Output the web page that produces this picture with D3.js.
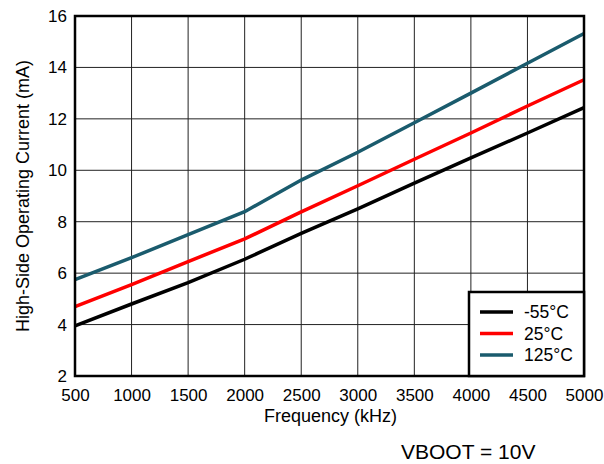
<!DOCTYPE html>
<html>
<head>
<meta charset="utf-8">
<script src="https://cdn.jsdelivr.net/npm/d3@7"></script>
<style>
  body { margin: 0; background: #fff; }
  svg { font-family: "Liberation Sans", Arial, sans-serif; }
</style>
</head>
<body>
<div id="chart"></div>
<script>
// Frequency points (kHz)
const freqs = [500, 1000, 1500, 2000, 2500, 3000, 3500, 4000, 4500, 5000];
// Operating current (mA) per temperature
const curM55 = [3.95, 4.8, 5.63, 6.54, 7.55, 8.5, 9.5, 10.48, 11.45, 12.44];
const cur25 = [4.7, 5.55, 6.45, 7.33, 8.38, 9.4, 10.43, 11.45, 12.5, 13.52];
const cur125 = [5.75, 6.6, 7.5, 8.39, 9.62, 10.7, 11.85, 13.0, 14.16, 15.32];
const seriesNames = ["-55°C", "25°C", "125°C"];
const seriesColors = ["#000000", "#ff0000", "#1a5b6d"];
const xTicks = [500, 1000, 1500, 2000, 2500, 3000, 3500, 4000, 4500, 5000];
const yTicks = [2, 4, 6, 8, 10, 12, 14, 16];

const svgWidth = 604, svgHeight = 464;
const margin = { top: 16, right: 20, bottom: 88, left: 75 };
const width = 584 - margin.left;
const height = 376 - margin.top;

const svg = d3.select("#chart").append("svg")
  .attr("width", svgWidth)
  .attr("height", svgHeight);

const g = svg.append("g")
  .attr("transform", `translate(${margin.left},${margin.top})`);

const x = d3.scaleLinear().domain([500, 5000]).range([0, width]);
const y = d3.scaleLinear().domain([2, 16]).range([height, 0]);

// grid
g.selectAll(".vgrid").data(xTicks).enter().append("line")
  .attr("x1", d => x(d)).attr("x2", d => x(d))
  .attr("y1", 0).attr("y2", height)
  .attr("stroke", "#222").attr("stroke-width", 1);
g.selectAll(".hgrid").data(yTicks).enter().append("line")
  .attr("x1", 0).attr("x2", width)
  .attr("y1", d => y(d)).attr("y2", d => y(d))
  .attr("stroke", "#222").attr("stroke-width", 1);

// axes (labels only)
const xAxis = g.append("g")
  .attr("transform", `translate(0,${height})`)
  .call(d3.axisBottom(x).tickValues(xTicks).tickFormat(d3.format("d")).tickSize(0).tickPadding(13));
xAxis.select(".domain").remove();
xAxis.selectAll("text").attr("font-size", 17).attr("fill", "#000")
  .attr("font-family", "Liberation Sans, Arial, sans-serif");

const yAxis = g.append("g")
  .call(d3.axisLeft(y).tickValues(yTicks).tickSize(0).tickPadding(8));
yAxis.select(".domain").remove();
yAxis.selectAll("text").attr("font-size", 17).attr("fill", "#000")
  .attr("font-family", "Liberation Sans, Arial, sans-serif");

// lines
const allSeries = [curM55, cur25, cur125];
const line = d3.line()
  .x((d, i) => x(freqs[i]))
  .y(d => y(d));

allSeries.forEach((vals, k) => {
  g.append("path")
    .datum(vals)
    .attr("d", line)
    .attr("fill", "none")
    .attr("stroke", seriesColors[k])
    .attr("stroke-width", 3.5);
});

// frame
g.append("rect")
  .attr("x", 0).attr("y", 0)
  .attr("width", width).attr("height", height)
  .attr("fill", "none")
  .attr("stroke", "#000")
  .attr("stroke-width", 2.5);

// legend
const lg = g.append("g")
  .attr("transform", `translate(${469 - margin.left},${292 - margin.top})`);
lg.append("rect")
  .attr("width", width - (469 - margin.left))
  .attr("height", height - (292 - margin.top))
  .attr("fill", "#fff")
  .attr("stroke", "#000")
  .attr("stroke-width", 2.5);
seriesNames.forEach((name, k) => {
  const yy = 20 + k * 21.5;
  lg.append("line")
    .attr("x1", 11).attr("x2", 44)
    .attr("y1", yy).attr("y2", yy)
    .attr("stroke", seriesColors[k])
    .attr("stroke-width", 3.5);
  lg.append("text")
    .attr("x", 55).attr("y", yy)
    .attr("dy", "0.35em")
    .attr("font-size", 17.5)
    .text(name);
});

// axis titles
svg.append("text")
  .attr("x", margin.left + width / 2 + 1)
  .attr("y", 422)
  .attr("text-anchor", "middle")
  .attr("font-size", 18)
  .text("Frequency (kHz)");

svg.append("text")
  .attr("transform", `translate(29,${margin.top + height / 2}) rotate(-90)`)
  .attr("text-anchor", "middle")
  .attr("font-size", 18)
  .text("High-Side Operating Current (mA)");

svg.append("text")
  .attr("x", 401)
  .attr("y", 459)
  .attr("font-size", 21)
  .text("VBOOT = 10V");
</script>
</body>
</html>
